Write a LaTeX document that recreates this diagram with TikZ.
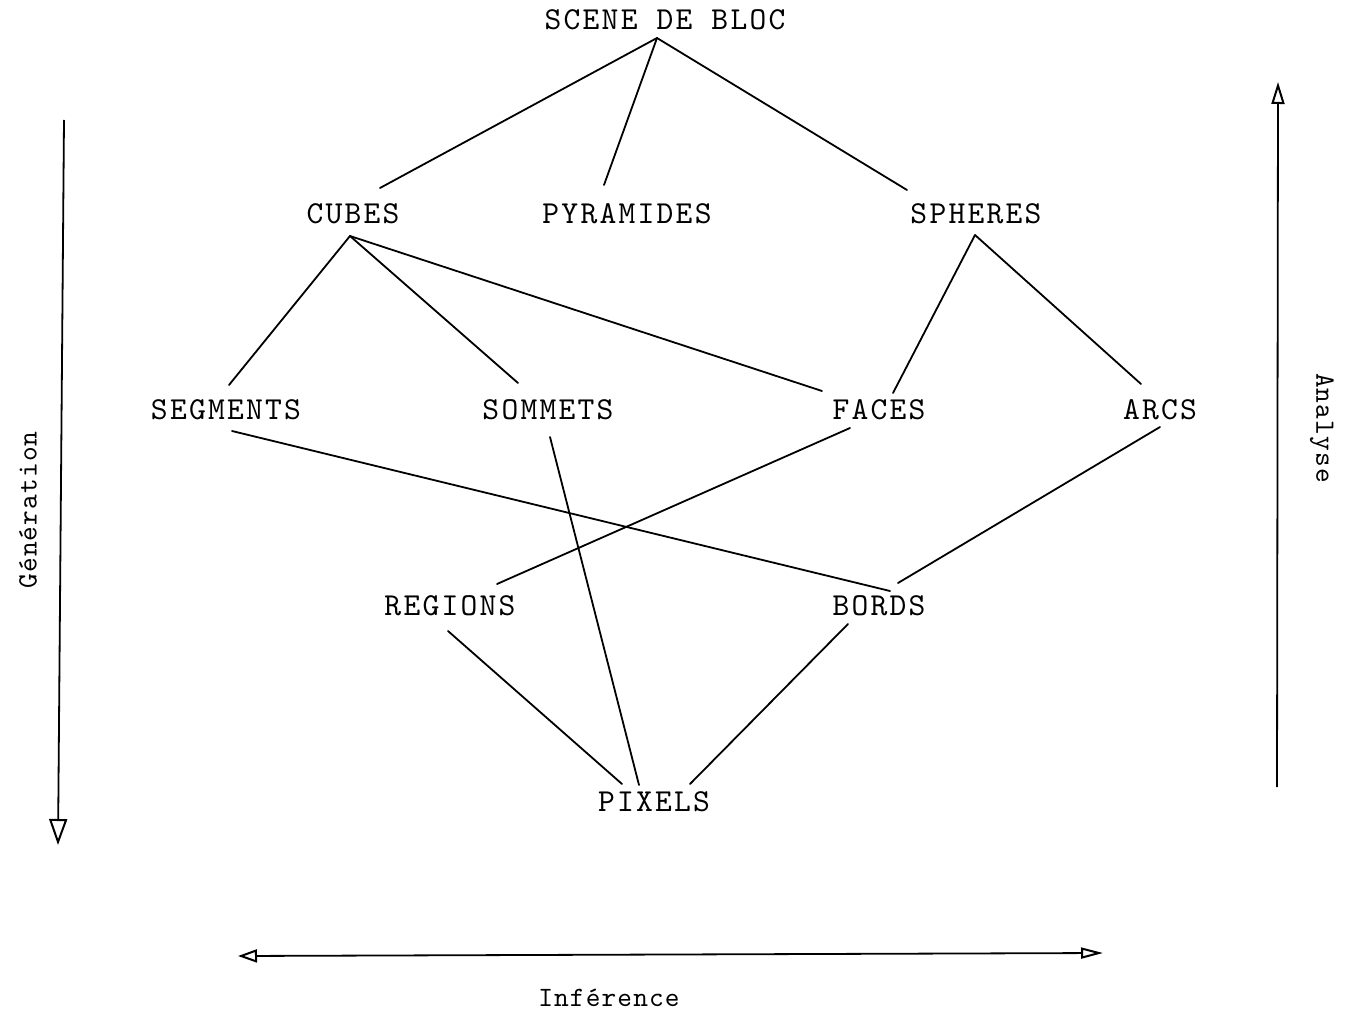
\documentclass[tikz,border=0pt]{standalone}
\usepackage{fontspec}
\usetikzlibrary{arrows.meta,calc}
\newfontfamily\capsface[LetterSpace=7]{lmmono10-regular.otf}
\newfontfamily\sideface[LetterSpace=4]{lmmono10-regular.otf}
\newcommand{\capsfnt}{\capsface\fontsize{32}{33}\selectfont}
\newcommand{\sidefnt}{\sideface\fontsize{28}{30}\selectfont}
\begin{document}
\begin{tikzpicture}[x=1pt,y=-1pt,
  lbl/.style={font=\capsfnt, inner sep=0pt, anchor=center},
  side/.style={font=\sidefnt, inner sep=0pt, anchor=center},
  edge/.style={line width=1.8pt, line cap=round},
  axis/.style={line width=1.8pt}]
\useasboundingbox[fill=white] (0,0) rectangle (1351,1016);
\node[lbl] (scene) at (665,20) {SCENE DE BLOC};
\node[lbl] (cubes) at (353,214) {CUBES};
\node[lbl] (pyr) at (627,214) {PYRAMIDES};
\node[lbl] (sph) at (976,214) {SPHERES};
\node[lbl] (seg) at (226,410) {SEGMENTS};
\node[lbl] (som) at (548,410) {SOMMETS};
\node[lbl] (faces) at (879,410) {FACES};
\node[lbl] (arcs) at (1160,410) {ARCS};
\node[lbl] (reg) at (450,606) {REGIONS};
\node[lbl] (bords) at (879,606) {BORDS};
\node[lbl] (pix) at (654,802) {PIXELS};
\node[side, rotate=90] (gen) at (28,510) {Génération};
\node[side, rotate=-90] (ana) at (1322,428) {Analyse};
\node[side] (inf) at (609,998) {Inférence};
% edges
\draw[edge] ([shift={(-8,18)}]scene.center) -- ([shift={(27,-26)}]cubes.center);
\draw[edge] ([shift={(-8,18)}]scene.center) -- ([shift={(-23,-29)}]pyr.center);
\draw[edge] ([shift={(-8,18)}]scene.center) -- ([shift={(-69,-24)}]sph.center);
\draw[edge] ([shift={(-3,22)}]cubes.center) -- ([shift={(3,-25)}]seg.center);
\draw[edge] ([shift={(-3,22)}]cubes.center) -- ([shift={(-30,-27)}]som.center);
\draw[edge] ([shift={(-3,22)}]cubes.center) -- ([shift={(-57,-19)}]faces.center);
\draw[edge] ([shift={(-1,21)}]sph.center) -- ([shift={(14,-17)}]faces.center);
\draw[edge] ([shift={(-1,21)}]sph.center) -- ([shift={(-19,-26)}]arcs.center);
\draw[edge] ([shift={(6,21)}]seg.center) -- ([shift={(11,-15)}]bords.center);
\draw[edge] ([shift={(2,27)}]som.center) -- ([shift={(-15,-17)}]pix.center);
\draw[edge] ([shift={(-29,18)}]faces.center) -- ([shift={(47,-22)}]reg.center);
\draw[edge] ([shift={(0,17)}]arcs.center) -- ([shift={(19,-23)}]bords.center);
\draw[edge] ([shift={(-2,25)}]reg.center) -- ([shift={(-32,-18)}]pix.center);
\draw[edge] ([shift={(-31,18)}]bords.center) -- ([shift={(36,-18)}]pix.center);
% axes
\coordinate (gA) at (64,120);
\coordinate (gB) at (58,845);
\coordinate (aA) at (1277,787);
\coordinate (aB) at (1278,82);
\coordinate (iA) at (238,956);
\coordinate (iB) at (1103,953);
\draw[axis, -{Triangle[open,length=26pt,width=18pt,line width=2pt]}] (gA) -- (gB);
\draw[axis, -{Triangle[open,length=22pt,width=13pt,line width=2pt]}] (aA) -- (aB);
\draw[axis, {Triangle[open,length=19pt,width=13pt,line width=2pt]}-{Triangle[open,length=22pt,width=11pt,line width=2pt]}] (iA) -- (iB);
\end{tikzpicture}
\end{document}
